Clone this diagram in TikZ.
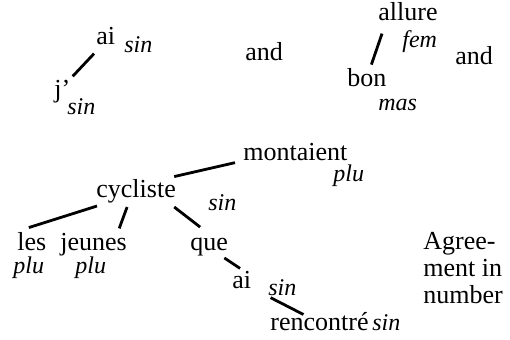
\documentclass[tikz,border=0pt]{standalone}
\usepackage{fontspec}
\setmainfont{Liberation Serif}

\begin{document}
\begin{tikzpicture}[x=0.5pt,y=-0.5pt,
    word/.style={inner sep=0pt,anchor=base west,font=\fontsize{13}{15}\selectfont\rmfamily},
    tag/.style={inner sep=0pt,anchor=base west,font=\fontsize{12}{14}\selectfont\rmfamily\itshape},
    link/.style={line width=1.4pt}]
      \useasboundingbox (0,0) rectangle (510,339);
      % first pair
      \node[word] (ai) at (96,44) {ai};
      \node[tag] (aisin) at (124,52) {sin};
      \node[word] (j) at (54,97) {j'};
      \node[tag] (jsin) at (67,114) {sin};
      \draw[link] ([shift={(-2,9)}]ai.south west) -- ([shift={(2,-3)}]j.north east);
      \node[word] (and1) at (245,60) {and};
      % second pair
      \node[word] (allure) at (378,20) {allure};
      \node[tag] (fem) at (402,47) {fem};
      \node[word] (bon) at (347,86) {bon};
      \node[tag] (mas) at (378,110) {mas};
      \draw[link] ([shift={(4,13)}]allure.south west) -- ([shift={(4.5,-3)}]bon.north);
      \node[word] (and2) at (455,64) {and};
      % the big tree
      \node[word] (montaient) at (243,160) {montaient};
      \node[tag] (montplu) at (333,181) {plu};
      \node[word] (cycliste) at (96,197) {cycliste};
      \node[tag] (cycsin) at (208,210) {sin};
      \draw[link] ([shift={(-8,2)}]montaient.south west) -- ([shift={(-2,-2)}]cycliste.north east);
      \node[word] (les) at (17,250) {les};
      \node[tag] (lesplu) at (13,273) {plu};
      \node[word] (jeunes) at (60,250) {jeunes};
      \node[tag] (jeunesplu) at (75,273) {plu};
      \node[word] (que) at (190,250) {que};
      \draw[link] ([shift={(1,3)}]cycliste.south west) -- ([shift={(-3,-4)}]les.north);
      \draw[link] ([shift={(-9,4)}]cycliste.south) -- ([shift={(-8,-4)}]jeunes.north east);
      \draw[link] ([shift={(-2,4)}]cycliste.south east) -- ([shift={(-9,-10)}]que.north);
      \node[word] (ai2) at (232,288) {ai};
      \node[tag] (aisin2) at (268,295) {sin};
      \draw[link] ([shift={(-4,2)}]que.south east) -- ([shift={(8,-2)}]ai2.north west);
      \node[word] (rencontre) at (270,330) {rencontré};
      \node[tag] (rensin) at (372,330) {sin};
      \draw[link] ([shift={(19,9)}]ai2.south east) -- ([shift={(-16,3)}]rencontre.north);
      % side note
      \node[word,anchor=north west,align=left,font=\fontsize{13}{13.5}\selectfont] (agree) at (423,232) {Agree-\\ment in\\number};
\end{tikzpicture}
\end{document}
